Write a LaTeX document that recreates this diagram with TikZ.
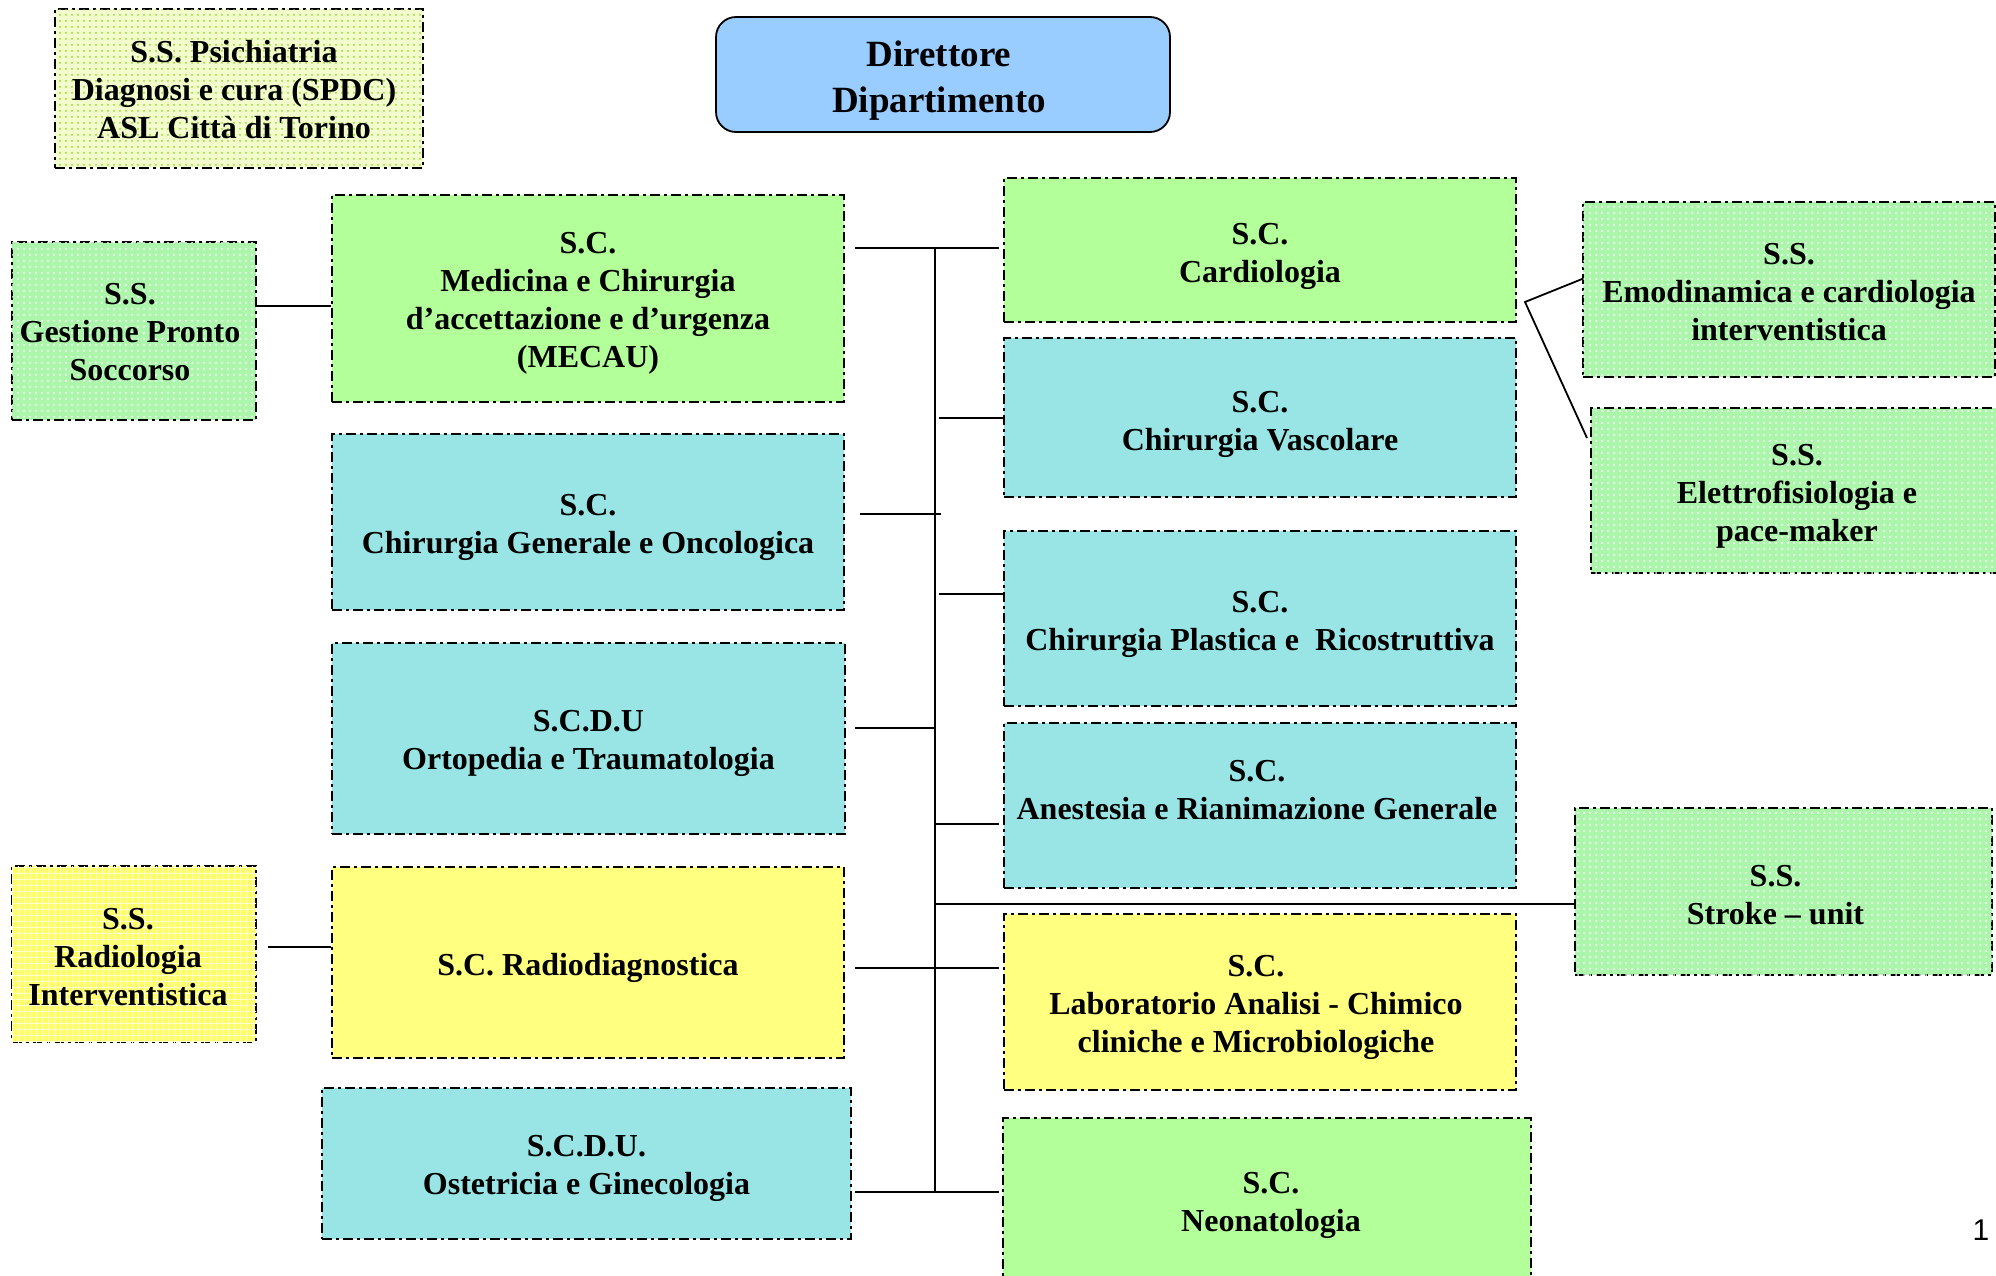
\documentclass[tikz,border=0pt]{standalone}
\usepackage{fontspec}
\setmainfont{Liberation Serif}
\newfontfamily\numfont{Liberation Sans}
\usetikzlibrary{patterns,calc}
\definecolor{cgreen}{RGB}{179,255,153}
\definecolor{ccyan}{RGB}{153,229,229}
\definecolor{cyellow}{RGB}{255,255,128}
\definecolor{cblue}{RGB}{153,204,255}
\definecolor{ssgreen}{RGB}{172,246,172}
\definecolor{psbase}{RGB}{242,252,205}
\definecolor{psdot}{RGB}{150,215,40}
\definecolor{riyellow}{RGB}{255,255,100}
% name, x1, y1, x2, y2, box style, text offset (px), text
\newcommand\mybox[8]{%
  \node[#6, minimum width={(#4-#2)*0.5pt}, minimum height={(#5-#3)*0.5pt}] (#1) at ({(#2+#4)/2},{(#3+#5)/2}) {};
  \node[boxtext] (#1-t) at ($(#1.center)+(#7)$) {#8};}
\tikzset{
  unit/.style={draw=black, line width=0.9pt, dash pattern=on 5pt off 2pt on 1.5pt off 2pt, inner sep=0pt},
  boxtext/.style={align=center, font=\fontsize{16}{19}\selectfont\bfseries, inner sep=0pt},
  scgreen/.style={unit, fill=cgreen},
  sccyan/.style={unit, fill=ccyan},
  scyellow/.style={unit, fill=cyellow},
  ssbox/.style={unit, fill=ssgreen, postaction={pattern=dots, pattern color=white}},
  psbox/.style={unit, fill=psbase, postaction={pattern=dots, pattern color=psdot}},
  ribox/.style={unit, fill=riyellow, postaction={pattern=grid, pattern color=white!70!riyellow}},
  dirbox/.style={draw=black, line width=0.9pt, fill=cblue, rounded corners=10pt, inner sep=0pt},
  dirtext/.style={align=center, font=\fontsize{18.5}{23}\selectfont\bfseries, inner sep=0pt},
  conn/.style={draw=black, line width=0.9pt},
}
\begin{document}
\begin{tikzpicture}[x=0.5pt,y=-0.5pt]
\useasboundingbox (0,0) rectangle (1996,1275);
\mybox{psich}{55}{9}{423}{168}{psbox}{-5,1}{S.S. Psichiatria\\Diagnosi e cura (SPDC)\\ASL Città di Torino}
\node[dirbox, minimum width={454*0.5pt}, minimum height={115*0.5pt}] (dir) at (943,74.5) {};
\node[dirtext] (dir-t) at ($(dir.center)+(-4,6)$) {Direttore\\Dipartimento};
\mybox{gest}{12}{242}{256}{420}{ssbox}{-4,1}{S.S.\\Gestione Pronto\\Soccorso}
\mybox{mecau}{332}{195}{844}{402}{scgreen}{0,5}{S.C.\\Medicina e Chirurgia\\d’accettazione e d’urgenza\\(MECAU)}
\mybox{chgen}{332}{434}{844}{610}{sccyan}{0,5}{S.C.\\Chirurgia Generale e Oncologica}
\mybox{orto}{332}{643}{845}{834}{sccyan}{0,5}{S.C.D.U\\Ortopedia e Traumatologia}
\mybox{radio}{332}{867}{844}{1058}{scyellow}{0,5}{S.C. Radiodiagnostica}
\mybox{oste}{322}{1088}{851}{1239}{sccyan}{0,5}{S.C.D.U.\\Ostetricia e Ginecologia}
\mybox{radint}{12}{866}{256}{1042}{ribox}{-6,3}{S.S.\\Radiologia\\Interventistica}
\mybox{cardio}{1004}{178}{1516}{322}{scgreen}{0,6}{S.C.\\Cardiologia}
\mybox{vasc}{1004}{338}{1516}{497}{sccyan}{0,7}{S.C.\\Chirurgia Vascolare}
\mybox{plast}{1004}{531}{1516}{706}{sccyan}{0,6}{S.C.\\Chirurgia Plastica e \ Ricostruttiva}
\mybox{anest}{1004}{723}{1516}{888}{sccyan}{-3,-15}{S.C.\\Anestesia e Rianimazione Generale}
\mybox{lab}{1004}{914}{1516}{1090}{scyellow}{-4,5}{S.C.\\Laboratorio Analisi - Chimico\\cliniche e Microbiologiche}
\mybox{neo}{1003}{1118}{1531}{1286}{scgreen}{4,3}{S.C.\\Neonatologia}
\mybox{emod}{1583}{202}{1995}{377}{ssbox}{0,3}{S.S.\\Emodinamica e cardiologia\\interventistica}
\mybox{elet}{1591}{408}{2003}{573}{ssbox}{0,6}{S.S.\\Elettrofisiologia e\\pace-maker}
\mybox{stroke}{1575}{808}{1992}{975}{ssbox}{-8,4}{S.S.\\Stroke – unit}
\node[font=\numfont\fontsize{15}{18}\selectfont] (pnum) at (1981,1230) {1};
% trunk
\coordinate (ttop) at (935,248);
\coordinate (tbot) at (935,1192);
\draw[conn] (ttop) -- (tbot);
% connectors
\draw[conn] ($(mecau.east |- ttop)+(10,0)$) -- ($(cardio.west |- ttop)+(-4,0)$);
\draw[conn] ($(ttop |- 0,418)+(4,0)$) -- (vasc.west |- 0,418);
\draw[conn] ($(chgen.east |- 0,514)+(15,0)$) -- ($(ttop |- 0,514)+(6,0)$);
\draw[conn] ($(ttop |- 0,594)+(4,0)$) -- (plast.west |- 0,594);
\draw[conn] ($(orto.east |- 0,728)+(9,0)$) -- (ttop |- 0,728);
\draw[conn] (ttop |- 0,824) -- ($(anest.west |- 0,824)+(-4,0)$);
\draw[conn] (ttop |- 0,904) -- (stroke.west |- 0,904);
\draw[conn] ($(radio.east |- 0,968)+(10,0)$) -- ($(lab.west |- 0,968)+(-4,0)$);
\draw[conn] ($(oste.east |- tbot)+(3,0)$) -- ($(neo.west |- tbot)+(-3,0)$);
\draw[conn] (gest.east |- 0,306) -- (mecau.west |- 0,306);
\draw[conn] ($(radint.east |- 0,947)+(11,0)$) -- (radio.west |- 0,947);
\coordinate (brk) at (1525,302);
\draw[conn] (emod.west |- 0,279) -- (brk) -- (1587,438);
\end{tikzpicture}
\end{document}
